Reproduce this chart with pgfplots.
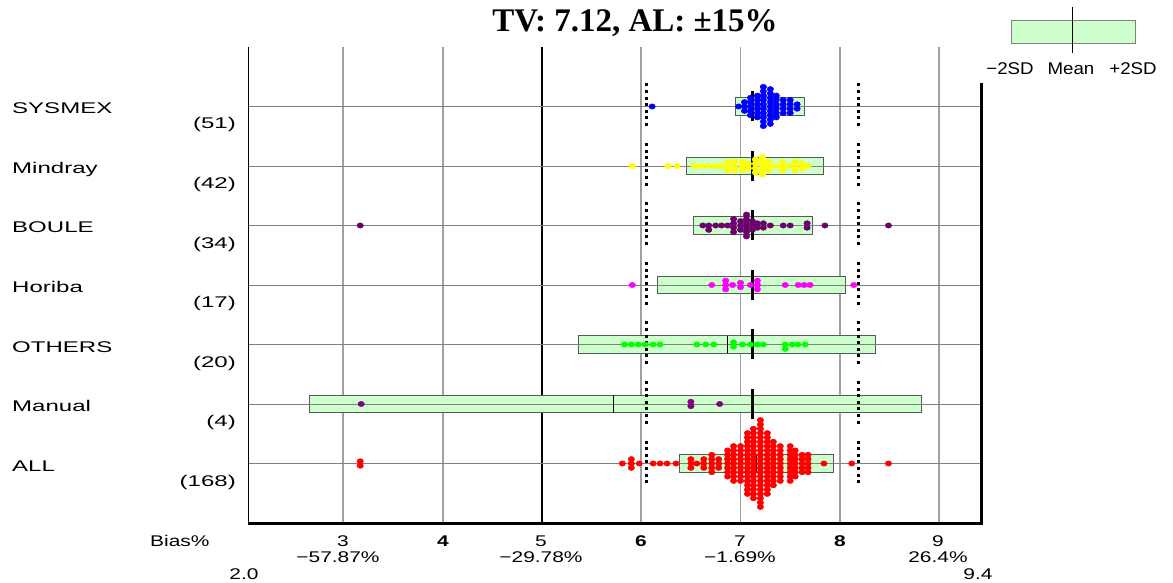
\documentclass[border=0pt]{standalone}
\usepackage{pgfplots}
\pgfplotsset{compat=1.18}
\usepackage{fontspec}
\setmainfont{Liberation Sans}
\newfontfamily\lab[FakeStretch=1.55]{Liberation Sans}
\newfontfamily\tlab[FakeStretch=1.35]{Liberation Sans}
\newfontfamily\leg[FakeStretch=1.1]{Liberation Sans}
\newfontfamily\ttlfont{Liberation Serif}
\definecolor{boxg}{HTML}{CCFFCC}
\definecolor{gridg}{HTML}{A0A0A0}
\definecolor{bouleP}{HTML}{6E006E}
\definecolor{manP}{HTML}{800080}
\definecolor{yel}{HTML}{FFFF00}
\definecolor{mag}{HTML}{FF00FF}
\definecolor{grn}{HTML}{00FF00}
\pgfplotsset{
  dot/.style={only marks, mark=*, mark size=2.7pt, mark options={xscale=1.2, solid}},
  bx/.style={draw=black!65, line width=0.9pt, fill=boxg},
  mn/.style={black, line width=1.5pt},
}
\begin{document}
\begin{tikzpicture}
\path[use as bounding box] (0pt,0pt) rectangle (1173pt,582pt);
\begin{axis}[at={(248pt,59pt)}, anchor=south west, x=99.3pt, y=59.5pt,
  xmin=2.04, xmax=9.425, ymin=0, ymax=8, hide axis, clip=false]
% vertical grid
\pgfplotsinvokeforeach{3,4,6,7,8,9}{\draw[gridg, line width=1.8pt] (axis cs:#1,0) -- (axis cs:#1,8);}
\draw[black, line width=1.8pt] (axis cs:5,0) -- (axis cs:5,8);
% boxes (-2SD .. +2SD)
\addplot[bx] coordinates {(6.95,6.85) (7.64,6.85) (7.64,7.15) (6.95,7.15)} -- cycle;
\addplot[bx] coordinates {(6.46,5.85) (7.83,5.85) (7.83,6.15) (6.46,6.15)} -- cycle;
\addplot[bx] coordinates {(6.53,4.85) (7.72,4.85) (7.72,5.15) (6.53,5.15)} -- cycle;
\addplot[bx] coordinates {(6.16,3.85) (8.06,3.85) (8.06,4.15) (6.16,4.15)} -- cycle;
\addplot[bx] coordinates {(5.37,2.85) (8.36,2.85) (8.36,3.15) (5.37,3.15)} -- cycle;
\addplot[bx] coordinates {(2.66,1.85) (8.82,1.85) (8.82,2.15) (2.66,2.15)} -- cycle;
\addplot[bx] coordinates {(6.38,0.85) (7.94,0.85) (7.94,1.15) (6.38,1.15)} -- cycle;
% row lines
\pgfplotsinvokeforeach{1,...,7}{\draw[gray, line width=0.9pt] (axis cs:2.04,#1) -- (axis cs:9.425,#1);}
% group means
\addplot[mn] coordinates {(7.29,6.85) (7.29,7.15)};
\addplot[mn] coordinates {(7.14,5.85) (7.14,6.15)};
\addplot[mn] coordinates {(7.12,4.85) (7.12,5.15)};
\addplot[mn] coordinates {(7.11,3.85) (7.11,4.15)};
\addplot[mn] coordinates {(6.87,2.85) (6.87,3.15)};
\addplot[mn] coordinates {(5.72,1.85) (5.72,2.15)};
\addplot[mn] coordinates {(7.16,0.85) (7.16,1.15)};
% SYSMEX
\addplot[dot, color=blue] coordinates {
(6.11,7) (6.98,7)
(7.04,6.927) (7.04,7) (7.04,7.073)
(7.10,6.854) (7.10,6.927) (7.10,7) (7.10,7.073) (7.10,7.146)
(7.17,6.817) (7.17,6.89) (7.17,6.963) (7.17,7.037) (7.17,7.11) (7.17,7.183)
(7.23,6.671) (7.23,6.744) (7.23,6.817) (7.23,6.89) (7.23,6.963) (7.23,7.037) (7.23,7.11) (7.23,7.183) (7.23,7.256) (7.23,7.329)
(7.30,6.708) (7.30,6.781) (7.30,6.854) (7.30,6.927) (7.30,7) (7.30,7.073) (7.30,7.146) (7.30,7.219) (7.30,7.292)
(7.36,6.817) (7.36,6.89) (7.36,6.963) (7.36,7.037) (7.36,7.11) (7.36,7.183)
(7.43,6.89) (7.43,6.963) (7.43,7.037) (7.43,7.11)
(7.50,6.89) (7.50,6.963) (7.50,7.037) (7.50,7.11)
(7.57,6.963) (7.57,7.037)};
% Mindray
\addplot[dot, color=yel] coordinates {
(5.91,6) (6.27,6) (6.36,6) (6.53,6) (6.60,6) (6.67,6) (6.74,6) (6.80,6)
(6.87,5.927) (6.87,6) (6.87,6.073)
(6.94,5.927) (6.94,6) (6.94,6.073)
(7.02,5.927) (7.02,6) (7.02,6.073)
(7.08,5.963) (7.08,6.037)
(7.15,5.89) (7.15,5.963) (7.15,6.037) (7.15,6.11)
(7.22,5.854) (7.22,5.927) (7.22,6) (7.22,6.073) (7.22,6.146)
(7.28,5.927) (7.28,6) (7.28,6.073)
(7.35,6)
(7.42,5.927) (7.42,6) (7.42,6.073)
(7.48,6)
(7.55,5.927) (7.55,6) (7.55,6.073)
(7.62,5.963) (7.62,6.037)
(7.68,6)};
% BOULE
\addplot[dot, color=bouleP] coordinates {
(3.17,5) (6.62,5) (6.68,5) (6.68,4.927) (6.75,5) (6.81,5) (6.87,5)
(6.93,4.89) (6.93,4.963) (6.93,5.037) (6.93,5.11)
(7.00,4.927) (7.00,5) (7.00,5.073)
(7.06,4.817) (7.06,4.89) (7.06,4.963) (7.06,5.037) (7.06,5.11) (7.06,5.183)
(7.12,4.927) (7.12,5) (7.12,5.073)
(7.17,4.963) (7.17,5.037)
(7.23,4.963) (7.23,5.037)
(7.30,5) (7.43,5) (7.50,5)
(7.67,4.963) (7.67,5.037)
(7.85,5) (8.49,5)};
% Horiba
\addplot[dot, color=mag] coordinates {
(5.91,4) (6.71,4)
(6.85,3.927) (6.85,4) (6.85,4.073)
(6.92,4)
(7.00,3.963) (7.00,4.037)
(7.10,4)
(7.17,3.927) (7.17,4) (7.17,4.073)
(7.45,4) (7.58,4) (7.64,4) (7.70,4) (8.14,4)};
% OTHERS
\addplot[dot, color=grn] coordinates {
(5.83,3) (5.90,3) (5.97,3) (6.04,3) (6.12,3) (6.19,3) (6.56,3) (6.65,3) (6.73,3)
(6.93,2.963) (6.93,3.037)
(7.02,3) (7.10,3) (7.17,3) (7.23,3)
(7.45,3) (7.45,2.927) (7.52,3) (7.58,3) (7.65,3)};
% Manual
\addplot[dot, color=manP] coordinates {
(3.18,2) (6.50,1.963) (6.50,2.037) (6.79,2)};
% ALL
\addplot[dot, color=red] coordinates {
(3.17,0.963) (3.17,1.037)
(5.81,1) (5.90,0.927) (5.90,1) (5.90,1.073) (5.98,1) (6.12,1) (6.19,1) (6.26,1) (6.35,1)
(6.50,0.927) (6.50,1) (6.50,1.073)
(6.56,1)
(6.63,0.927) (6.63,1) (6.63,1.073)
(6.71,0.854) (6.71,0.927) (6.71,1) (6.71,1.073) (6.71,1.146)
(6.78,0.927) (6.78,1) (6.78,1.073)
(6.87,0.781) (6.87,0.854) (6.87,0.927) (6.87,1) (6.87,1.073) (6.87,1.146) (6.87,1.219)
(6.93,0.708) (6.93,0.781) (6.93,0.854) (6.93,0.927) (6.93,1) (6.93,1.073) (6.93,1.146) (6.93,1.219) (6.93,1.292)
(7.00,0.708) (7.00,0.781) (7.00,0.854) (7.00,0.927) (7.00,1) (7.00,1.073) (7.00,1.146) (7.00,1.219) (7.00,1.292)
(7.07,0.489) (7.07,0.562) (7.07,0.635) (7.07,0.708) (7.07,0.781) (7.07,0.854) (7.07,0.927) (7.07,1) (7.07,1.073) (7.07,1.146) (7.07,1.219) (7.07,1.292) (7.07,1.365) (7.07,1.438) (7.07,1.511)
(7.13,0.416) (7.13,0.489) (7.13,0.562) (7.13,0.635) (7.13,0.708) (7.13,0.781) (7.13,0.854) (7.13,0.927) (7.13,1) (7.13,1.073) (7.13,1.146) (7.13,1.219) (7.13,1.292) (7.13,1.365) (7.13,1.438) (7.13,1.511) (7.13,1.584)
(7.20,0.27) (7.20,0.343) (7.20,0.416) (7.20,0.489) (7.20,0.562) (7.20,0.635) (7.20,0.708) (7.20,0.781) (7.20,0.854) (7.20,0.927) (7.20,1) (7.20,1.073) (7.20,1.146) (7.20,1.219) (7.20,1.292) (7.20,1.365) (7.20,1.438) (7.20,1.511) (7.20,1.584) (7.20,1.657) (7.20,1.73)
(7.27,0.489) (7.27,0.562) (7.27,0.635) (7.27,0.708) (7.27,0.781) (7.27,0.854) (7.27,0.927) (7.27,1) (7.27,1.073) (7.27,1.146) (7.27,1.219) (7.27,1.292) (7.27,1.365) (7.27,1.438) (7.27,1.511)
(7.33,0.635) (7.33,0.708) (7.33,0.781) (7.33,0.854) (7.33,0.927) (7.33,1) (7.33,1.073) (7.33,1.146) (7.33,1.219) (7.33,1.292) (7.33,1.365)
(7.40,0.708) (7.40,0.781) (7.40,0.854) (7.40,0.927) (7.40,1) (7.40,1.073) (7.40,1.146) (7.40,1.219) (7.40,1.292)
(7.50,0.708) (7.50,0.781) (7.50,0.854) (7.50,0.927) (7.50,1) (7.50,1.073) (7.50,1.146) (7.50,1.219) (7.50,1.292)
(7.55,0.781) (7.55,0.854) (7.55,0.927) (7.55,1) (7.55,1.073) (7.55,1.146) (7.55,1.219)
(7.62,0.854) (7.62,0.927) (7.62,1) (7.62,1.073) (7.62,1.146)
(7.68,0.854) (7.68,0.927) (7.68,1) (7.68,1.073) (7.68,1.146)
(7.84,1) (8.12,1) (8.49,1)};
% TV lines
\pgfplotsinvokeforeach{1,...,7}{\draw[black, line width=3pt] ([yshift=15pt]axis cs:7.12,#1) -- ([yshift=-15pt]axis cs:7.12,#1);}
% AL lines (TV +/- 15%)
\pgfplotsinvokeforeach{1,...,7}{
  \draw[black, line width=3pt, dash pattern=on 3pt off 3.6pt] ([yshift=23pt]axis cs:6.052,#1) -- ([yshift=-23pt]axis cs:6.052,#1);
  \draw[black, line width=3pt, dash pattern=on 3pt off 3.6pt] ([yshift=23pt]axis cs:8.188,#1) -- ([yshift=-23pt]axis cs:8.188,#1);}
% borders
\draw[black, line width=1pt] (axis cs:2.04,0) -- (axis cs:2.04,8);
\draw[black, line width=3pt] (axis cs:9.425,7.39) -- (axis cs:9.425,0) -- (axis cs:2.04,0);
\end{axis}
% title
\node[anchor=base, font=\ttlfont\bfseries\fontsize{33}{36}\selectfont] at (635pt,550pt) {TV: 7.12, AL: ±15\%};
% row labels
\begin{scope}[every node/.style={font=\lab\fontsize{15.5}{18}\selectfont, inner sep=0pt}]
\node[anchor=base west] at (12pt,468pt) {SYSMEX};
\node[anchor=base west] at (12pt,408.5pt) {Mindray};
\node[anchor=base west] at (12pt,349pt) {BOULE};
\node[anchor=base west] at (12pt,289.5pt) {Horiba};
\node[anchor=base west] at (12pt,230pt) {OTHERS};
\node[anchor=base west] at (12pt,170.5pt) {Manual};
\node[anchor=base west] at (12pt,111pt) {ALL};
\node[anchor=base east] at (236pt,453pt) {(51)};
\node[anchor=base east] at (236pt,393.5pt) {(42)};
\node[anchor=base east] at (236pt,334pt) {(34)};
\node[anchor=base east] at (236pt,274.5pt) {(17)};
\node[anchor=base east] at (236pt,215pt) {(20)};
\node[anchor=base east] at (236pt,155.5pt) {(4)};
\node[anchor=base east] at (236pt,96pt) {(168)};
\end{scope}
% bottom labels
\begin{scope}[every node/.style={font=\tlab\fontsize{15.5}{18}\selectfont, inner sep=0pt, anchor=base}]
\node[anchor=base west] at (150pt,36pt) {Bias\%};
\node at (343pt,36pt) {3};
\node[font=\tlab\bfseries\fontsize{15.5}{18}\selectfont] at (443pt,36pt) {4};
\node at (541pt,36pt) {5};
\node[font=\tlab\bfseries\fontsize{15.5}{18}\selectfont] at (641pt,36pt) {6};
\node at (740pt,36pt) {7};
\node[font=\tlab\bfseries\fontsize{15.5}{18}\selectfont] at (840pt,36pt) {8};
\node at (938pt,36pt) {9};
\node at (338pt,20pt) {−57.87\%};
\node at (541pt,20pt) {−29.78\%};
\node at (740pt,20pt) {−1.69\%};
\node at (938pt,20pt) {26.4\%};
\node at (244pt,3pt) {2.0};
\node at (978pt,3pt) {9.4};
\end{scope}
% legend
\draw[fill=boxg, draw=gray, line width=0.8pt] (1011pt,539pt) rectangle (1135pt,562pt);
\draw[black, line width=0.8pt] (1072pt,529pt) -- (1072pt,575pt);
\begin{scope}[every node/.style={font=\leg\fontsize{17}{20}\selectfont, inner sep=0pt, anchor=base}]
\node at (1010pt,507pt) {−2SD};
\node at (1071pt,507pt) {Mean};
\node at (1133pt,507pt) {+2SD};
\end{scope}
\end{tikzpicture}
\end{document}
